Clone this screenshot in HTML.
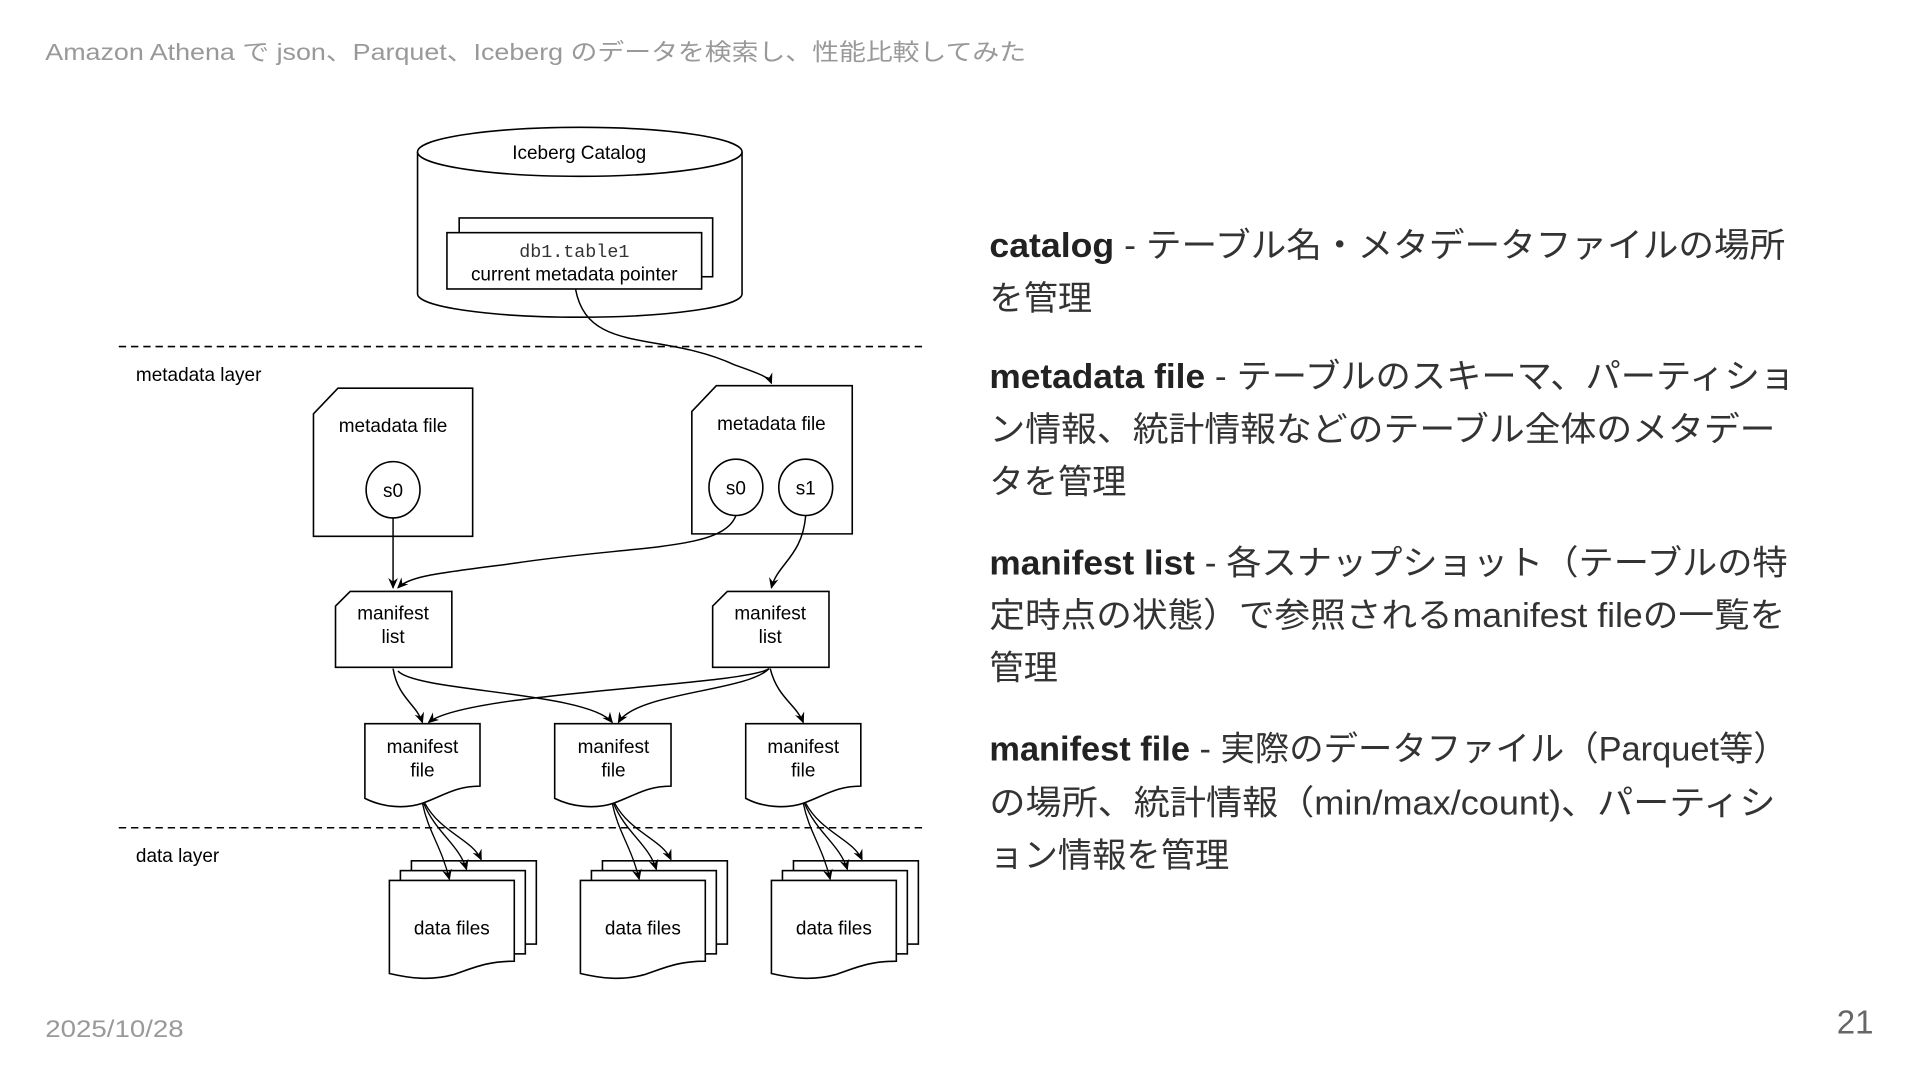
<!DOCTYPE html>
<html><head><meta charset="utf-8"><style>
html,body{margin:0;padding:0;background:#fff;width:1920px;height:1080px;overflow:hidden}
svg{display:block}
.d{font-family:"Liberation Sans",sans-serif;font-size:15.5px;fill:#000}
.r{font-family:"Liberation Sans","Noto Sans CJK JP",sans-serif;font-size:28px;fill:#333}
.b{font-weight:bold;fill:#222}
</style></head><body>
<svg width="1920" height="1080" viewBox="0 0 1568 882" xmlns="http://www.w3.org/2000/svg">
<defs><marker id="a" markerWidth="10" markerHeight="10" refX="8" refY="4" orient="auto" markerUnits="userSpaceOnUse"><path d="M0,0 L9,4 L0,8 L3,4 Z" fill="#000"/></marker></defs>
<text x="37" y="49" textLength="801" lengthAdjust="spacingAndGlyphs" font-family="Liberation Sans,'Noto Sans CJK JP',sans-serif" font-size="19" fill="#999">Amazon Athena で json、Parquet、Iceberg のデータを検索し、性能比較してみた</text>
<text x="37" y="847" textLength="113" lengthAdjust="spacingAndGlyphs" font-family="Liberation Sans,sans-serif" font-size="20" fill="#999">2025/10/28</text>
<text x="1530" y="844" text-anchor="end" font-family="Liberation Sans,sans-serif" font-size="27" fill="#666">21</text>

<g fill="#fff" stroke="#000" stroke-width="1.3">
<path d="M341,124 V240 A132,19 0 0 0 606,240 V124"/>
<ellipse cx="473.5" cy="124" rx="132.5" ry="20"/>
<rect x="375" y="178" width="207" height="48"/>
<rect x="365" y="190" width="208" height="46"/>
<line x1="97" y1="283" x2="757" y2="283" stroke-dasharray="6,4"/>
<line x1="97" y1="676" x2="757" y2="676" stroke-dasharray="6,4"/>
<path d="M276,317 H386 V438 H256 V338 Z"/>
<path d="M585,315 H696 V436 H565 V336 Z"/>
<ellipse cx="321" cy="400" rx="22" ry="23"/>
<ellipse cx="601" cy="398" rx="22" ry="23"/>
<ellipse cx="658" cy="398" rx="22" ry="23"/>
<path d="M286,483 H369 V545 H274 V495 Z"/>
<path d="M594,483 H677 V545 H582 V495 Z"/>
<path d="M298,591 H392 V642 C372,642 362,650 345,656 C330,661 312,659 298,652 Z"/>
<path d="M453,591 H548 V642 C528,642 518,650 501,656 C486,661 467,659 453,652 Z"/>
<path d="M609,591 H703 V642 C683,642 673,650 656,656 C641,661 622,659 609,652 Z"/>
</g>
<g fill="#fff" stroke="#000" stroke-width="1.3">
<g id="ds">
<rect x="336" y="703" width="102" height="68"/>
<rect x="327" y="711" width="102" height="68"/>
<path d="M318,719 H420 V785 C398,785 388,790 370,796 C352,801 335,799 318,795 Z"/>
</g>
<use href="#ds" x="156"/>
<use href="#ds" x="312"/>
</g>
<g fill="none" stroke="#000" stroke-width="1.2" marker-end="url(#a)">
<path d="M470,236 C480,290 540,270 600,298 C620,305 628,308 630,313"/>
<path d="M321,423 V480"/>
<path d="M601,421 C590,450 520,445 420,460 C360,468 335,470 325,480"/>
<path d="M658,421 C655,455 635,460 630,480"/>
<path d="M321,546 C325,570 340,575 345,590"/>
<path d="M325,548 C340,565 480,565 500,590"/>
<path d="M628,546 C610,560 380,565 350,590"/>
<path d="M628,546 C610,565 520,565 505,590"/>
<path d="M629,546 C635,570 650,575 656,590"/>
</g>
<g fill="none" stroke="#000" stroke-width="1.1" marker-end="url(#a)" id="fan">
<path d="M345,656 C350,680 360,690 367,718"/>
<path d="M346,656 C356,680 375,690 381,710"/>
<path d="M347,656 C360,680 385,685 393,702"/>
</g>
<use href="#fan" x="155"/>
<use href="#fan" x="311"/>

<g class="d">
<text x="473" y="130" text-anchor="middle">Iceberg Catalog</text>
<text x="469" y="210" text-anchor="middle" font-family="Liberation Mono,monospace" font-size="15" fill="#333">db1.table1</text>
<text x="469" y="229" text-anchor="middle">current metadata pointer</text>
<text x="111" y="311">metadata layer</text>
<text x="111" y="704">data layer</text>
<text x="321" y="353" text-anchor="middle">metadata file</text>
<text x="630" y="351" text-anchor="middle">metadata file</text>
<text x="321" y="406" text-anchor="middle">s0</text>
<text x="601" y="404" text-anchor="middle">s0</text>
<text x="658" y="404" text-anchor="middle">s1</text>
<text x="321" y="506" text-anchor="middle">manifest</text>
<text x="321" y="525" text-anchor="middle">list</text>
<text x="629" y="506" text-anchor="middle">manifest</text>
<text x="629" y="525" text-anchor="middle">list</text>
<text x="345" y="615" text-anchor="middle">manifest</text><text x="345" y="634" text-anchor="middle">file</text>
<text x="501" y="615" text-anchor="middle">manifest</text><text x="501" y="634" text-anchor="middle">file</text>
<text x="656" y="615" text-anchor="middle">manifest</text><text x="656" y="634" text-anchor="middle">file</text>
<text x="369" y="763" text-anchor="middle">data files</text>
<text x="525" y="763" text-anchor="middle">data files</text>
<text x="681" y="763" text-anchor="middle">data files</text>
</g>

<g class="r">
<text x="808" y="210" textLength="650" lengthAdjust="spacingAndGlyphs"><tspan class="b">catalog</tspan> - テーブル名・メタデータファイルの場所</text>
<text x="808" y="253">を管理</text>
<text x="808" y="317" textLength="658" lengthAdjust="spacingAndGlyphs"><tspan class="b">metadata file</tspan> - テーブルのスキーマ、パーティショ</text>
<text x="808" y="360" textLength="642" lengthAdjust="spacingAndGlyphs">ン情報、統計情報などのテーブル全体のメタデー</text>
<text x="808" y="403">タを管理</text>
<text x="808" y="469" textLength="652" lengthAdjust="spacingAndGlyphs"><tspan class="b">manifest list</tspan> - 各スナップショット（テーブルの特</text>
<text x="808" y="512" textLength="650" lengthAdjust="spacingAndGlyphs">定時点の状態）で参照されるmanifest fileの一覧を</text>
<text x="808" y="555">管理</text>
<text x="808" y="621" textLength="652" lengthAdjust="spacingAndGlyphs"><tspan class="b">manifest file</tspan> - 実際のデータファイル（Parquet等）</text>
<text x="808" y="665" textLength="642" lengthAdjust="spacingAndGlyphs">の場所、統計情報（min/max/count)、パーティシ</text>
<text x="808" y="708">ョン情報を管理</text>
</g>
</svg>
</body></html>
